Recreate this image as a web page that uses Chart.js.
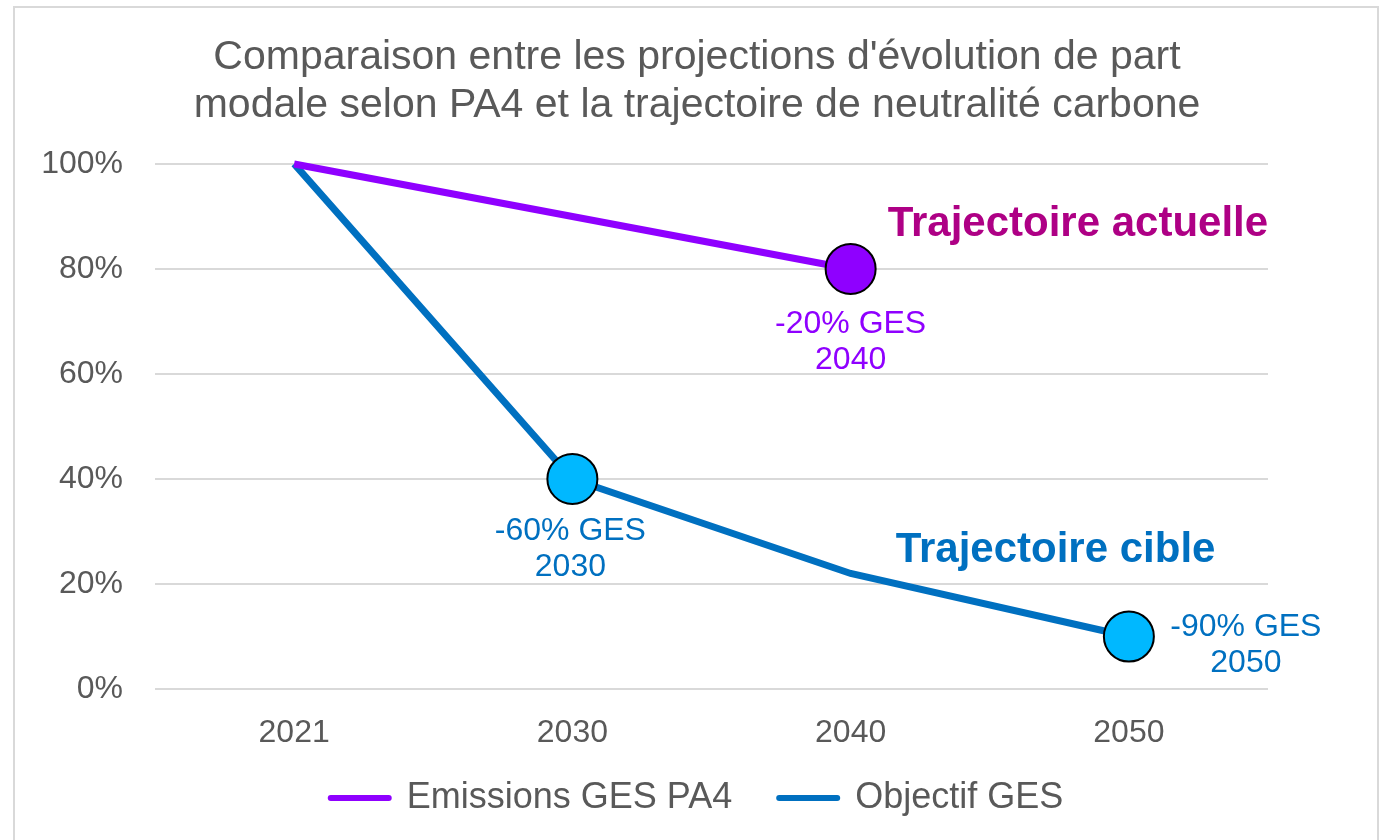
<title>Comparaison part modale PA4</title>
<script src="https://cdn.jsdelivr.net/npm/chart.js@4.4.1/dist/chart.umd.min.js"></script>
<style>
  html,body{margin:0;padding:0;background:#fff;overflow:hidden}
  #frame{position:absolute;left:13px;top:6px;width:1362px;height:900px;border:2px solid #d9d9d9}
  #wrap{position:absolute;left:0;top:0;width:1383px;height:840px}
</style>
<div id="frame"></div>
<div id="wrap"><canvas id="myChart" width="1383" height="840"></canvas></div>
<script>
// data
var years = ['2021', '2030', '2040', '2050'];
var emissionsPA4 = [100, 90, 80, null];
var objectifGES = [100, 40, 22, 10];
var yMin = 0, yMax = 100, yStep = 20;

var seriesNames = ['Emissions GES PA4', 'Objectif GES'];
var labelPA4_2040 = ['-20% GES', '2040'];
var labelObj_2030 = ['-60% GES', '2030'];
var labelObj_2050 = ['-90% GES', '2050'];
var trajNames = ['Trajectoire actuelle', 'Trajectoire cible'];

var FONT = 'Liberation Sans, Arial, sans-serif';
var GREY = '#595959';

// text next to the points, placed from the points' own pixels
var notes = {
  id: 'notes',
  afterDatasetsDraw: function(chart){
    var ctx = chart.ctx;
    var p0 = chart.getDatasetMeta(0).data, p1 = chart.getDatasetMeta(1).data;
    function lines(arr, x, y, color){
      ctx.save();
      ctx.font = '32px ' + FONT;
      ctx.fillStyle = color;
      ctx.textAlign = 'center';
      ctx.textBaseline = 'middle';
      for (var i = 0; i < arr.length; i++) ctx.fillText(arr[i], x, y + i * 36);
      ctx.restore();
    }
    function big(txt, x, y, color){
      ctx.save();
      ctx.font = 'bold 42px ' + FONT;
      ctx.fillStyle = color;
      ctx.textAlign = 'left';
      ctx.textBaseline = 'middle';
      ctx.fillText(txt, x, y);
      ctx.restore();
    }
    lines(labelPA4_2040, p0[2].x, p0[2].y + 55, '#8f00ff');
    lines(labelObj_2030, p1[1].x - 2, p1[1].y + 52, '#0070c0');
    lines(labelObj_2050, p1[3].x + 117, p1[3].y - 9, '#0070c0');
    big(trajNames[0], p0[2].x + 37, p0[2].y - 45, '#ae0085');
    big(trajNames[1], p1[2].x + 45, p1[2].y - 23, '#0070c0');
  }
};

var ctx = document.getElementById('myChart');
var myChart = new Chart(ctx, {
  type: 'line',
  data: {
    labels: years,
    datasets: [
      {label: seriesNames[0], data: emissionsPA4,
        borderColor: '#8f00ff', backgroundColor: '#8f00ff',
        borderWidth: 7, tension: 0,
        pointRadius: [0, 0, 25, 0], pointHoverRadius: [0, 0, 25, 0],
        pointBackgroundColor: '#8f00ff', pointBorderColor: '#000', pointBorderWidth: 2},
      {label: seriesNames[1], data: objectifGES,
        borderColor: '#0070c0', backgroundColor: '#0070c0',
        borderWidth: 7, tension: 0,
        pointRadius: [0, 25, 0, 25], pointHoverRadius: [0, 25, 0, 25],
        pointBackgroundColor: '#00b8ff', pointBorderColor: '#000', pointBorderWidth: 2}
    ]
  },
  options: {
    responsive: false,
    animation: false,
    clip: false,
    layout: {padding: {left: 11, right: 0, top: 0, bottom: 14}},
    plugins: {
      tooltip: {enabled: false},
      title: {display: true,
        text: ['Comparaison entre les projections d\'évolution de part', 'modale selon PA4 et la trajectoire de neutralité carbone'],
        color: GREY, font: {family: FONT, size: 41, weight: 'normal', lineHeight: 1.17},
        padding: {top: 34, bottom: 34}},
      legend: {position: 'bottom',
        labels: {usePointStyle: true, pointStyle: 'line', pointStyleWidth: 58,
          color: GREY, font: {family: FONT, size: 36}, padding: 27,
          generateLabels: function(chart){
            var items = Chart.defaults.plugins.legend.labels.generateLabels(chart);
            items.forEach(function(it, i){
              var ds = chart.data.datasets[it.datasetIndex];
              it.lineCap = 'round';
              it.strokeStyle = ds.borderColor;
              it.lineWidth = 6;
              // wider gap between the two entries
              if (i < items.length - 1) it.text = it.text + '  ';
            });
            return items;
          }}}
    },
    scales: {
      x: {offset: true, grid: {display: false, drawTicks: false}, border: {display: false},
        afterFit: function(s){ s.height = 64; },
        ticks: {color: GREY, font: {family: FONT, size: 32}, padding: 25}},
      y: {min: yMin, max: yMax,
        afterFit: function(s){ s.width = 144; },
        grid: {color: '#d9d9d9', lineWidth: 2, drawTicks: false},
        border: {display: false},
        ticks: {stepSize: yStep, color: GREY, font: {family: FONT, size: 32}, padding: 32,
          callback: function(v){ return v + '%'; }}},
      yRight: {position: 'right', display: true,
        afterFit: function(s){ s.width = 115; },
        grid: {display: false}, border: {display: false}, ticks: {display: false}}
    }
  },
  plugins: [notes]
});
</script>
